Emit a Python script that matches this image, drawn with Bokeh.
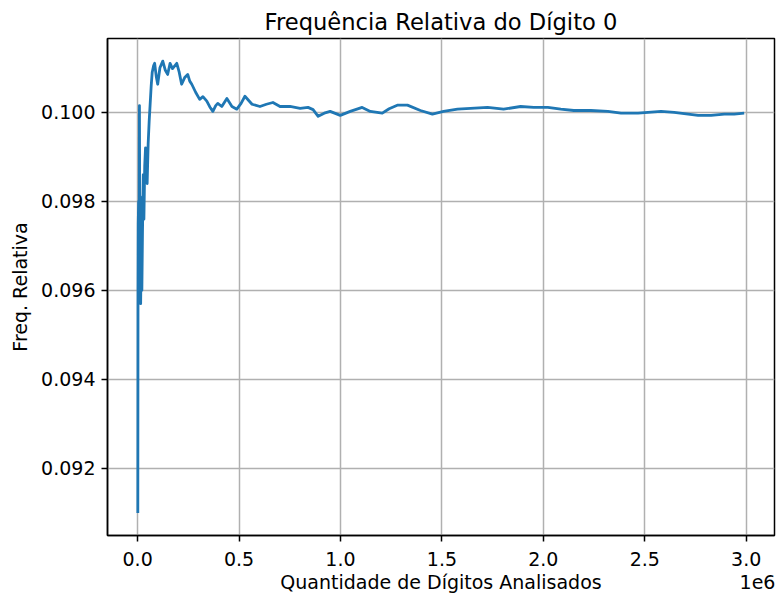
from bokeh.plotting import figure
from bokeh.models import Range1d, FixedTicker, LinearAxis
from bokeh.embed import file_html
from bokeh.resources import INLINE

# data
digits = [1000, 2000, 3000, 5000, 7000, 9000, 11000, 13000, 15000, 18000,
          21000, 24000, 28000, 31000, 35000, 39000, 43000, 47000, 52000, 57000,
          62000, 67000, 72000, 79000, 84000, 92000, 99000, 110000, 124000, 136000,
          148000, 160000, 172000, 193000, 205000, 217000, 232000, 247000, 257000, 267000,
          286000, 306000, 322000, 341000, 356000, 371000, 385000, 395000, 415000, 440000,
          465000, 489000, 510000, 529000, 564000, 603000, 635000, 667000, 702000, 751000,
          801000, 840000, 865000, 890000, 920000, 949000, 999000, 1048000, 1107000, 1147000,
          1206000, 1240000, 1280000, 1330000, 1394000, 1453000, 1508000, 1577000, 1641000, 1725000,
          1804000, 1888000, 1953000, 2022000, 2086000, 2150000, 2234000, 2318000, 2383000, 2467000,
          2516000, 2580000, 2645000, 2714000, 2763000, 2827000, 2892000, 2941000, 2990000]
freq = [0.09100, 0.09600, 0.09750, 0.09800, 0.09620, 0.10015, 0.09680, 0.09810, 0.09570, 0.09700,
        0.09600, 0.09730, 0.09860, 0.09760, 0.09880, 0.09920, 0.09850, 0.09840, 0.09930, 0.09980,
        0.10020, 0.10060, 0.10090, 0.10105, 0.10110, 0.10080, 0.10063, 0.10100, 0.10115, 0.10095,
        0.10085, 0.10110, 0.10098, 0.10110, 0.10090, 0.10063, 0.10078, 0.10085, 0.10070, 0.10063,
        0.10045, 0.10029, 0.10035, 0.10025, 0.10012, 0.10002, 0.10015, 0.10020, 0.10013, 0.10031,
        0.10013, 0.10007, 0.10020, 0.10036, 0.10018, 0.10013, 0.10018, 0.10022, 0.10013, 0.10013,
        0.10009, 0.10011, 0.10006, 0.09991, 0.09998, 0.10002, 0.09993, 0.10002, 0.10011, 0.10002,
        0.09998, 0.10008, 0.10016, 0.10016, 0.10004, 0.09996, 0.10002, 0.10007, 0.10009, 0.10011,
        0.10007, 0.10013, 0.10011, 0.10011, 0.10007, 0.10004, 0.10004, 0.10002, 0.09998, 0.09998,
        0.10000, 0.10002, 0.10000, 0.09996, 0.09993, 0.09993, 0.09996, 0.09996, 0.09998]

x_ticks = [0, 500000, 1000000, 1500000, 2000000, 2500000, 3000000]
x_tick_labels = ["0.0", "0.5", "1.0", "1.5", "2.0", "2.5", "3.0"]
y_ticks = [0.092, 0.094, 0.096, 0.098, 0.100]
y_tick_labels = ["0.092", "0.094", "0.096", "0.098", "0.100"]

title_text = "Frequência Relativa do Dígito 0"
x_label = "Quantidade de Dígitos Analisados"
y_label = "Freq. Relativa"
offset_text = "1e6"

FONT = "DejaVu Sans"
FS = "19px"

xmin, xmax = min(digits), max(digits)
ymin, ymax = min(freq), max(freq)
mx = (xmax - xmin) * 0.05
my = (ymax - ymin) * 0.05
x_start, x_end = xmin - mx, xmax + mx

W, H = 776, 597
p = figure(width=W, height=H, output_backend="svg", toolbar_location=None,
           x_range=Range1d(x_start, x_end), y_range=Range1d(ymin - my, ymax + my),
           min_border_left=107, min_border_right=2, min_border_top=38, min_border_bottom=62)

p.background_fill_color = "white"
p.border_fill_color = "white"
p.outline_line_color = "black"
p.outline_line_width = 1.5

p.title.text = title_text
p.title.align = "center"
p.title.text_font = FONT
p.title.text_font_size = "22.6px"
p.title.text_font_style = "normal"
p.title.text_color = "black"
p.title.standoff = 8

for ax in (p.xaxis[0], p.yaxis[0]):
    ax.axis_line_color = "black"
    ax.axis_line_width = 1.5
    ax.major_tick_line_color = "black"
    ax.major_tick_line_width = 1.5
    ax.major_tick_in = 0
    ax.major_tick_out = 6
    ax.minor_tick_line_color = None
    ax.major_label_text_font = FONT
    ax.major_label_text_font_size = FS
    ax.major_label_text_color = "black"
    ax.axis_label_text_font = FONT
    ax.axis_label_text_font_size = FS
    ax.axis_label_text_font_style = "normal"
    ax.axis_label_text_color = "black"

p.xaxis.ticker = FixedTicker(ticks=x_ticks)
p.xaxis.major_label_overrides = {t: l for t, l in zip(x_ticks, x_tick_labels)}
p.xaxis.major_label_standoff = 10

p.yaxis.ticker = FixedTicker(ticks=y_ticks)
p.yaxis.major_label_overrides = {t: l for t, l in zip(y_ticks, y_tick_labels)}
p.yaxis.axis_label = y_label
p.yaxis.major_label_standoff = 6
p.yaxis.axis_label_standoff = 7

# second row under the x axis: axis title (centred) and the "1e6" offset text (right)
label_pos = (x_start + x_end) / 2
px_per_unit = (W - 107 - 2) / (x_end - x_start)
offset_pos = x_end - 17 / px_per_unit
row = LinearAxis(ticker=FixedTicker(ticks=[label_pos, offset_pos]),
                 major_label_overrides={label_pos: x_label, offset_pos: offset_text},
                 axis_line_color=None, major_tick_line_color=None, minor_tick_line_color=None,
                 major_tick_in=0, major_tick_out=0, major_label_standoff=2,
                 major_label_text_font=FONT, major_label_text_font_size=FS,
                 major_label_text_color="black")
p.add_layout(row, "below")

p.xgrid.ticker = FixedTicker(ticks=x_ticks)
p.ygrid.ticker = FixedTicker(ticks=y_ticks)
for g in (p.xgrid[0], p.ygrid[0]):
    g.grid_line_color = "#b0b0b0"
    g.grid_line_width = 1.5

p.line(digits, freq, line_color="#1f77b4", line_width=2.8, line_join="round")

open("out.html", "w").write(file_html(p, INLINE))
